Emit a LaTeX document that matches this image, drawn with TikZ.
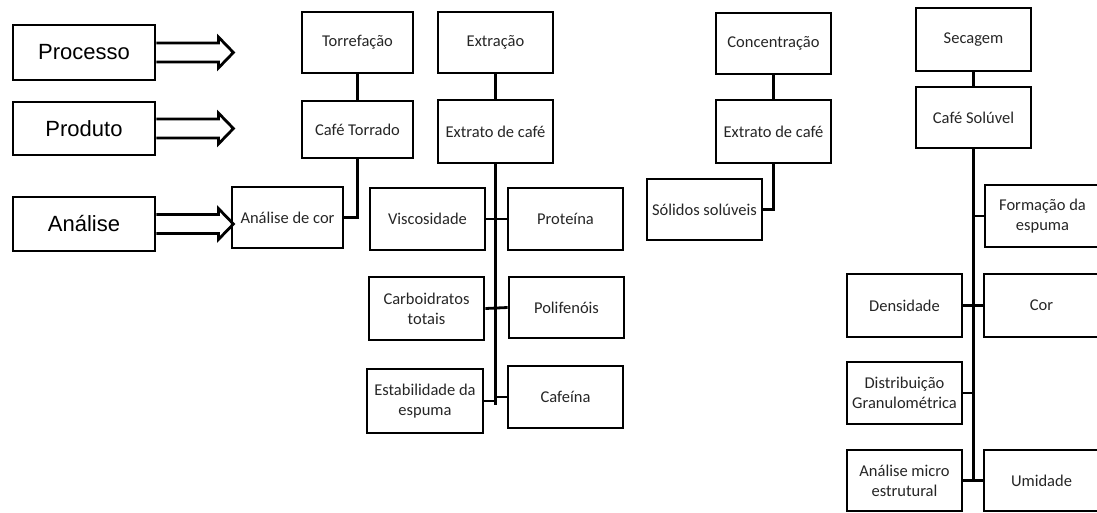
\documentclass[tikz,border=0pt]{standalone}
\usepackage{fontspec}
\setmainfont{Carlito}
\newfontfamily\labelfont{Liberation Sans}
\tikzset{
  box/.style={draw=black, line width=2.8pt, align=center, inner sep=1pt,
    text=black!85, font=\fontsize{16.5}{20}\selectfont},
  lab/.style={box, text=black, font=\labelfont\fontsize{22}{26}\selectfont},
  conn/.style={draw=black, line width=2.8pt},
  blockarrow/.style={draw=black, line width=2.8pt, line join=miter}
}
\newcommand{\mybox}[7][box]{%
  \node[#1, minimum width={#5-#3}, minimum height={#6-#4}] (#2) at ({(#3+#5)/2},{(#4+#6)/2}) {#7};}
\newcommand{\myarrow}[1]{%
  \draw[blockarrow] (#1.east) ++(0,-9.5) -- ++(62,0) -- ++(0,-6) -- ++(15,15.5) -- ++(-15,15.5) -- ++(0,-6) -- ++(-62,0);}
\begin{document}
\begin{tikzpicture}[x=1pt,y=-1pt]
\useasboundingbox (0,0) rectangle (1097,512);
\clip (0,0) rectangle (1097,512);
\fill[white] (0,0) rectangle (1097,512);
% left labels
\mybox[lab]{proc}{13}{25}{155}{80}{Processo}
\mybox[lab]{prod}{13}{102}{155}{155}{Produto}
\mybox[lab]{anal}{13}{197}{155}{251}{Análise}
\myarrow{proc}
\myarrow{prod}
\myarrow{anal}
% column 1
\mybox{torr}{302}{12}{413}{73}{Torrefação}
\mybox{ctor}{302}{101}{413}{158}{Café Torrado}
\mybox{acor}{232}{187}{343}{248}{Análise de cor}
\draw[conn] (torr.south) -- (ctor.north);
\draw[conn] (ctor.south) |- (acor.east);
% column 2
\mybox{extr}{438}{12}{553}{73}{Extração}
\mybox{ext1}{438}{100}{553}{163}{Extrato de café}
\mybox{visc}{370}{188}{485}{250}{Viscosidade}
\mybox{prot}{508}{188}{623}{250}{Proteína}
\mybox{carb}{369}{277}{484}{340}{Carboidratos\\totais}
\mybox{poli}{509}{277}{624}{338}{Polifenóis}
\mybox{estab}{367}{369}{483}{433}{Estabilidade da\\espuma}
\mybox{caf}{508}{366}{623}{428}{Cafeína}
\coordinate (e1end) at (495.5,405);
\draw[conn] (extr.south) -- (ext1.north);
\draw[conn] (ext1.south) -- (e1end);
\draw[conn] (visc.east) -- (prot.west);
\draw[conn] (carb.east) -- (poli.west);
\draw[conn] (estab.east) -- (estab.east -| e1end);
\draw[conn] (caf.west) -- (caf.west -| e1end);
% column 3
\mybox{conc}{716}{13}{831}{74}{Concentração}
\mybox{ext2}{716}{100}{831}{163}{Extrato de café}
\mybox{sol}{647}{179}{762}{240}{Sólidos solúveis}
\draw[conn] (conc.south) -- (ext2.north);
\draw[conn] (ext2.south) |- (sol.east);
% column 4
\mybox{sec}{916}{8}{1031}{71}{Secagem}
\mybox{csol}{916}{87}{1031}{148}{Café Solúvel}
\mybox{form}{985}{185}{1100}{247}{Formação da\\espuma}
\mybox{dens}{847}{274}{962}{337}{Densidade}
\mybox{cor}{984}{274}{1099}{337}{Cor}
\mybox{dist}{847}{362}{962}{424}{Distribuição\\Granulométrica}
\mybox{amic}{847}{450}{962}{511}{Análise micro\\estrutural}
\mybox{umid}{984}{450}{1099}{511}{Umidade}
\coordinate (c4end) at (973.5,481.5);
\draw[conn] (sec.south) -- (csol.north);
\draw[conn] (csol.south) -- (c4end);
\draw[conn] (form.west) -- (form.west -| c4end);
\draw[conn] (dens.east) -- (cor.west);
\draw[conn] (dist.east) -- (dist.east -| c4end);
\draw[conn] (amic.east) -- (umid.west);
\end{tikzpicture}
\end{document}
